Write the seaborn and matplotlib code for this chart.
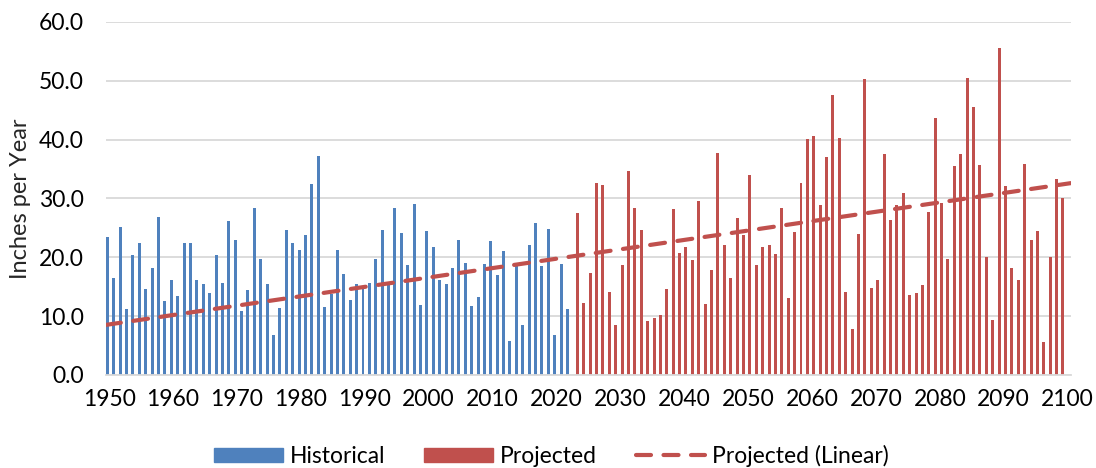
import matplotlib
matplotlib.use("Agg")
import matplotlib.pyplot as plt
from matplotlib.patches import Patch
from matplotlib.lines import Line2D
import numpy as np
import pandas as pd
import seaborn as sns

# values (inches per year)
hist_years = list(range(1950, 2023))
hist_values = [
    23.5, 16.5, 25.2, 11.2, 20.3, 22.4, 14.6, 18.2, 26.9, 12.6,
    16.1, 13.4, 22.5, 22.4, 16.1, 15.5, 14.0, 20.3, 15.6, 26.1,
    22.9, 10.8, 14.4, 28.4, 19.7, 15.4, 6.8, 11.4, 24.6, 22.4,
    21.3, 23.7, 32.5, 37.2, 11.5, 13.7, 21.3, 17.1, 12.7, 15.5,
    15.0, 15.7, 19.7, 24.6, 15.3, 28.4, 24.1, 18.6, 29.0, 11.8,
    24.4, 21.8, 16.1, 15.5, 18.1, 23.0, 19.0, 11.7, 13.2, 18.8,
    22.8, 16.9, 21.1, 5.8, 18.6, 8.5, 22.1, 25.9, 18.5, 24.8,
    6.8, 18.8, 11.2,
]
proj_years = list(range(2023, 2100))
proj_values = [
    27.6, 12.3, 17.3, 32.6, 32.2, 14.1, 8.5,
    18.6, 34.7, 28.3, 24.7, 9.1, 9.6, 10.1, 14.6, 28.2, 20.7,
    21.7, 19.5, 29.6, 12.1, 17.8, 37.7, 22.0, 16.5, 26.7, 23.8,
    33.9, 18.6, 21.8, 22.1, 20.5, 28.4, 13.1, 24.3, 32.7, 40.1,
    40.7, 28.8, 37.0, 47.6, 40.2, 14.1, 7.8, 24.0, 50.3, 14.7,
    16.2, 37.5, 26.4, 28.9, 30.9, 13.6, 13.9, 15.2, 27.7, 43.7,
    29.3, 19.7, 35.5, 37.5, 50.5, 45.6, 35.6, 20.1, 9.3, 55.6,
    32.1, 18.1, 16.2, 35.9, 22.9, 24.4, 5.6, 20.1, 33.3, 30.1,
]
# linear trend of the projected series, endpoints
trend_years = [1949.5, 2100.5]
trend_values = [8.5, 32.6]

series_names = ["Historical", "Projected"]
colors = {"Historical": "#4F81BD", "Projected": "#C0504D"}
x_ticks = list(range(1950, 2101, 10))
y_ticks = [0, 10, 20, 30, 40, 50, 60]

df = pd.DataFrame({
    "year": hist_years + proj_years,
    "inches": hist_values + proj_values,
    "series": ["Historical"] * len(hist_years) + ["Projected"] * len(proj_years),
})

sns.set_style("white")
plt.rcParams["font.family"] = ["Lato", "DejaVu Sans"]
plt.rcParams["text.color"] = "#000000"

fig, ax = plt.subplots(figsize=(10.96, 4.68), dpi=100)
fig.subplots_adjust(left=0.0967, right=0.977, top=0.953, bottom=0.199)

sns.barplot(
    data=df, x="year", y="inches", hue="series", hue_order=series_names,
    palette=colors, native_scale=True, width=1.1, gap=0.15, dodge=True,
    errorbar=None, legend=False, saturation=1, linewidth=0, ax=ax,
)
ax.plot(trend_years, trend_values, color="#C0504D", lw=3.0,
        dashes=(3.6, 3.0), dash_capstyle="round", zorder=4)

ax.set_xlim(1949.5, 2100.5)
ax.set_ylim(0, 60)
ax.set_xticks(x_ticks)
ax.set_xticklabels([str(y) for y in x_ticks])
ax.set_yticks(y_ticks)
ax.set_yticklabels([f"{v:.1f}" for v in y_ticks])
ax.tick_params(axis="both", length=0, labelsize=16.5, colors="#000000")
ax.tick_params(axis="y", pad=16)
ax.tick_params(axis="x", pad=10)

ax.grid(axis="y", color="#D9D9D9", lw=1.3)
ax.set_axisbelow(True)
for side in ["left", "right", "top"]:
    ax.spines[side].set_visible(False)
ax.spines["bottom"].set_color("#D9D9D9")
ax.spines["bottom"].set_linewidth(1.3)

ax.set_xlabel("")
ax.set_ylabel("Inches per Year", fontsize=17)
ax.yaxis.set_label_coords(-0.078, 0.5)

handles = [
    Patch(color=colors["Historical"], label="Historical"),
    Patch(color=colors["Projected"], label="Projected"),
    Line2D([0], [0], color="#C0504D", lw=3.0, dashes=(3.6, 3.0),
           dash_capstyle="round", label="Projected (Linear)"),
]
fig.legend(handles=handles, loc="center", bbox_to_anchor=(0.503, 0.026),
           ncol=3, frameon=False, fontsize=16.5, handlelength=3.0,
           handleheight=0.55, handletextpad=0.3, columnspacing=1.7)

fig.savefig("out.png", dpi=100)
plt.close(fig)
